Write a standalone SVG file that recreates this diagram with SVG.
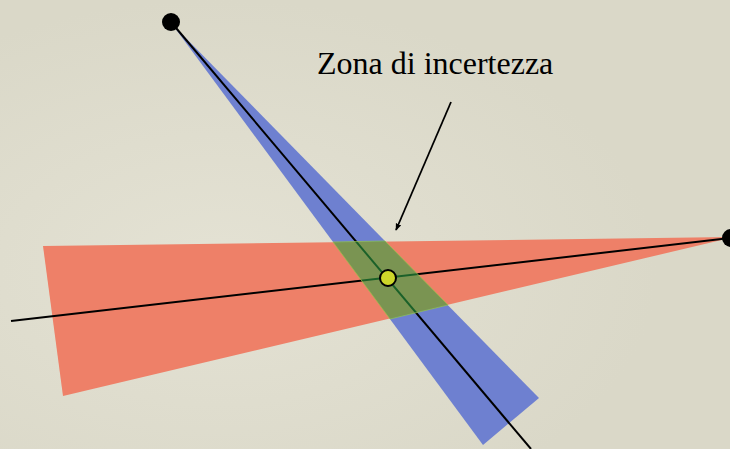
<svg xmlns="http://www.w3.org/2000/svg" width="730" height="449" viewBox="0 0 730 449">
<defs>
<style>
.ln{stroke:#000;stroke-width:2;fill:none}
.dot{fill:#000}
.lbl{font-family:"Liberation Serif","Times New Roman",serif;font-size:32px;fill:#000}
</style>
<marker id="ah" viewBox="0 0 10 10" refX="9" refY="5" markerWidth="7" markerHeight="7" orient="auto" markerUnits="userSpaceOnUse">
<path d="M0,1 L10,5 L0,9 Z" fill="#000"/>
</marker>
<radialGradient id="bgA" cx="0.3" cy="0.6" r="0.6">
<stop offset="0" stop-color="#e4e2d4"/>
<stop offset="1" stop-color="#dad8c8"/>
</radialGradient>
</defs>
<rect width="730" height="449" fill="url(#bgA)"/>
<g id="blue-wedge"><polygon points="172,24 539,398 483,445" fill="#6e80d0"/></g>
<g id="red-wedge"><polygon points="43,246 730,237 730,238 63,396" fill="#ee8068"/></g>
<g id="connectors">
<line class="ln" x1="171" y1="22" x2="531" y2="449"/>
<line class="ln" x1="11" y1="321" x2="731" y2="238"/>
<line x1="451" y1="102" x2="396" y2="230" stroke="#000" stroke-width="1.8" marker-end="url(#ah)"/>
</g>
<g id="uncertainty-zone"><polygon points="333,242 385,241 448,305 390,319" fill="#2da244" fill-opacity="0.6" stroke="#9cc24a" stroke-width="1" stroke-opacity="0.7"/></g>
<g id="station-top"><circle class="dot" cx="171" cy="22" r="9"/></g>
<g id="station-right"><circle class="dot" cx="731" cy="238" r="9"/></g>
<g id="intersection"><circle cx="388" cy="278" r="8" fill="#cdd62a" stroke="#000" stroke-width="2"/></g>
<g id="label"><text class="lbl" x="317" y="74">Zona di incertezza</text></g>
</svg>
